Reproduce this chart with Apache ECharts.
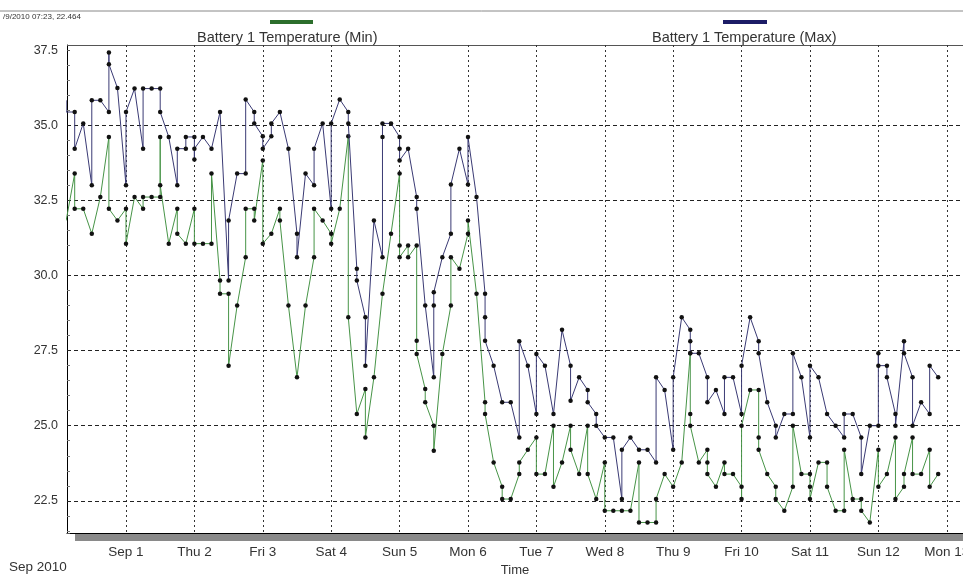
<!DOCTYPE html>
<html>
<head>
<meta charset="utf-8">
<script src="https://cdn.jsdelivr.net/npm/echarts@6/dist/echarts.min.js"></script>
<style>
html,body{margin:0;padding:0;background:#fff;overflow:hidden}
#c{width:963px;height:577px}
</style>
</head>
<body>
<div id="c"></div>
<script>
// Tick labels for the day gridlines (hours since Sep 1 00:00, every 24 h)
const dayLabels = ["Sep 1","Thu 2","Fri 3","Sat 4","Sun 5","Mon 6","Tue 7","Wed 8","Thu 9","Fri 10","Sat 11","Sun 12","Mon 13"];
const yGridValues = [22.5, 25.0, 27.5, 30.0, 32.5, 35.0];

// Samples are logged every 3 hours, first slot at Aug 31 03:00 (-21 h)
const firstSlotHour = -21;
const slotHours = 3;

// Readings per 3-hour slot (several readings in one slot draw a vertical step)
const maxSlots = [
 [35.83,35.44],[35.44,34.22],[35.06],[33.0,35.83],[35.83],[35.44,37.42,37.03],[36.24],[33.0,35.44],
 [36.22],[34.22,36.22],[36.22],[36.22,35.44],[34.61],[33.0,34.22],[34.22,34.61],[34.61,33.86,34.22],
 [34.61],[34.22],[35.44],[29.83,31.83],[33.39],[33.39,35.86],[35.44,35.06],[34.63,34.22],
 [34.63,35.06],[35.44],[34.22],[31.39,30.61],[33.39],[33.0,34.22],[35.06],[32.22,35.06],
 [35.86],[35.44,35.06],[30.22,29.83],[28.61,27.0],[31.83],[30.61,34.61,35.06],[35.06],[34.61,34.22,33.83],
 [34.22],[32.61,32.22],[29.0],[26.61,29.0,29.44],[30.61],[31.39,33.03],[34.22],[33.03,34.61],
 [32.61],[29.39,28.61,27.83],[27.0],[25.78],[25.78],[24.61,27.81],[27.0],[25.39,27.39],
 [27.0],[25.39],[28.19],[27.0,25.83],[26.61],[26.19,25.78],[25.39,25.0],[24.61],
 [24.61],[22.56,24.2],[24.61],[24.2],[24.2],[23.78,26.61],[26.19],[24.2,26.61],
 [28.61],[28.19,27.81,27.41],[27.41],[26.61,25.78],[26.19],[25.39,26.61],[26.61],[25.39,27.0],
 [28.61],[27.81,27.41],[25.78],[25.0,24.61],[25.39],[25.39,27.41],[26.61],[24.61,27.0],
 [26.61],[25.39],[25.0],[24.61,25.39],[25.39],[24.61,23.39],[25.0],[25.0,27.41,27.0],
 [27.0,26.61],[25.39,25.0],[27.81,27.41],[26.61,25.0],[25.78],[25.39,27.0],[26.61]
];
const minSlots = [
 [31.83],[33.39,32.22],[32.22],[31.39],[32.61],[34.61,32.22],[31.83],[32.22,31.06],
 [32.61],[32.22,32.61],[32.61],[32.61,34.61,33.0],[31.06],[32.22,31.39],[31.06],[32.22,31.06],
 [31.06],[31.06,33.39],[29.83,29.39],[29.39,27.0],[29.0],[30.61,32.22],[32.22,31.83],[33.83,31.06],
 [31.39],[32.22,31.83],[29.0],[26.61],[29.0],[30.61,32.22],[31.83],[31.39,31.06],
 [32.22],[34.63,28.61],[25.39],[26.22,24.61],[26.61],[29.39],[31.39],[33.39,31.0,30.61],
 [31.0,30.61],[31.0,27.83,27.39],[26.22,25.78],[25.0,24.17],[27.39],[29.0,30.61],[30.22],[31.39,31.83],
 [29.39],[25.78,25.39],[23.78],[22.97,22.56],[22.56],[23.39,23.78],[24.2],[24.61,23.39],
 [23.39],[25.0,22.97],[23.78],[25.0,24.2],[23.39],[25.0,23.39],[22.56],[23.78,22.17],
 [22.17],[22.17],[22.17],[23.78,21.78],[21.78],[21.78,22.56],[23.39],[22.97],
 [23.78],[27.41,25.39,25.0],[23.78],[24.2,23.78,23.39],[22.97],[23.78,23.39],[23.39],[22.97,22.56,25.0],
 [26.19],[26.19,24.61,24.2],[23.39],[22.97,22.56],[22.17],[22.97,25.0],[23.39],[23.39,22.97,22.56],
 [23.78],[23.78,22.97],[22.17],[22.17,24.2],[22.56],[22.56,22.17],[21.78],[24.2,22.97],
 [23.39],[24.61,22.56],[22.97,23.39],[24.61,23.39],[23.39],[24.2,22.97],[23.39]
];

function toPoints(slots) {
  const pts = [];
  slots.forEach((vals, k) => {
    const h = firstSlotHour + k * slotHours;
    vals.forEach(v => pts.push([h, v]));
  });
  return pts;
}

const chart = echarts.init(document.getElementById('c'), null, {renderer: 'canvas'});
const FONT = '"Liberation Sans", Arial, sans-serif';

chart.setOption({
  animation: false,
  backgroundColor: '#ffffff',
  grid: {left: 67, right: 0, top: 45, bottom: 44, containLabel: false, outerBoundsMode: 'none'},
  xAxis: {
    type: 'value', min: -20.7, max: 293.7, minInterval: 24, maxInterval: 24,
    name: 'Time', nameLocation: 'middle', nameGap: 28,
    nameTextStyle: {color: '#333', fontSize: 13, fontFamily: FONT},
    axisLine: {show: true, onZero: false, lineStyle: {color: '#000', width: 1}},
    axisTick: {show: false},
    axisLabel: {
      color: '#333', fontSize: 13.5, fontFamily: FONT, margin: 12,
      showMinLabel: false, showMaxLabel: false, hideOverlap: false,
      formatter: v => (Math.abs(v % 24) < 1e-6 && v >= 0) ? (dayLabels[Math.round(v / 24)] || '') : ''
    },
    splitLine: {show: true, lineStyle: {color: '#333', width: 1, type: [2, 3]}}
  },
  yAxis: {
    type: 'value', min: 21.43, max: 37.67, minInterval: 2.5, maxInterval: 2.5,
    axisLine: {show: true, onZero: false, lineStyle: {color: '#000', width: 1}},
    axisTick: {show: true, inside: true, length: 3, lineStyle: {color: '#555'}},
    minorTick: {show: true, splitNumber: 5, length: 3, lineStyle: {color: '#777'}},
    axisLabel: {
      color: '#333', fontSize: 12.5, fontFamily: FONT, margin: 9,
      formatter: v => (Math.abs((v / 2.5) - Math.round(v / 2.5)) < 1e-6) ? v.toFixed(1) : ''
    },
    splitLine: {show: false}
  },
  series: [
    {
      name: 'Battery 1 Temperature (Min)', type: 'line', data: toPoints(minSlots),
      symbol: 'circle', symbolSize: 4.5, showSymbol: true,
      itemStyle: {color: '#111'},
      lineStyle: {color: '#479447', width: 1},
      z: 3,
      markLine: {
        silent: true, symbol: 'none', label: {show: false},
        lineStyle: {color: '#222', width: 1, type: [4, 3]},
        data: yGridValues.map(v => ({yAxis: v})),
        z: 1
      }
    },
    {
      name: 'Battery 1 Temperature (Max)', type: 'line', data: toPoints(maxSlots),
      symbol: 'circle', symbolSize: 4.5, showSymbol: true,
      itemStyle: {color: '#111'},
      lineStyle: {color: '#3a3a74', width: 1},
      z: 4
    }
  ],
  graphic: [
    {type: 'line', shape: {x1: 0, y1: 11, x2: 963, y2: 11}, style: {stroke: '#888', lineWidth: 1}},
    {type: 'line', shape: {x1: 67, y1: 45.5, x2: 963, y2: 45.5}, style: {stroke: '#555', lineWidth: 1}},
    {type: 'text', left: 3, top: 13, style: {text: '/9/2010 07:23, 22.464', fontSize: 8, fill: '#333', fontFamily: FONT}},
    {type: 'rect', shape: {x: 270, y: 20, width: 43, height: 4}, style: {fill: '#2c6e2c'}},
    {type: 'text', left: 197, top: 30, style: {text: 'Battery 1 Temperature (Min)', fontSize: 14.5, fill: '#333', fontFamily: FONT}},
    {type: 'rect', shape: {x: 723, y: 20, width: 44, height: 4}, style: {fill: '#1c1c66'}},
    {type: 'text', left: 652, top: 30, style: {text: 'Battery 1 Temperature (Max)', fontSize: 14.5, fill: '#333', fontFamily: FONT}},
    {type: 'rect', shape: {x: 75, y: 534, width: 888, height: 7}, style: {fill: '#8a8a8a'}},
    {type: 'text', left: 9, top: 560, style: {text: 'Sep 2010', fontSize: 13.5, fill: '#333', fontFamily: FONT}}
  ]
});
</script>
</body>
</html>
